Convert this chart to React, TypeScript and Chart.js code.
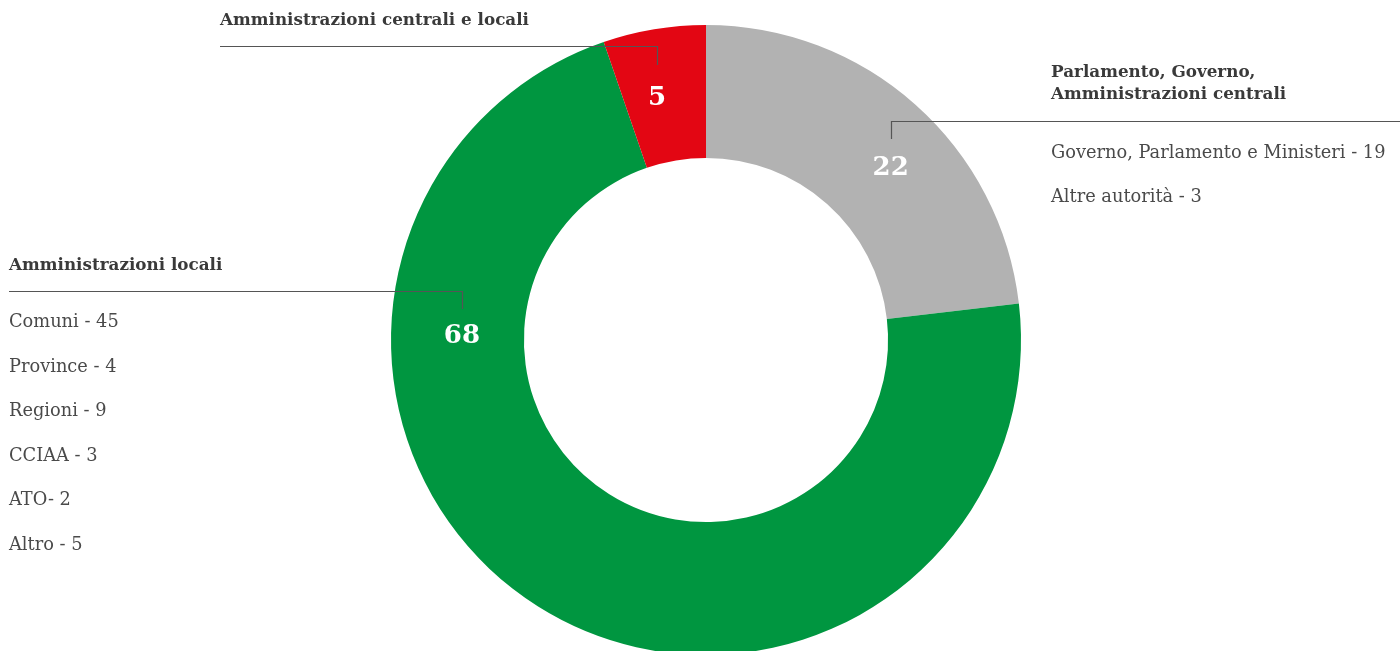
import React, { useEffect, useRef } from "react";
import { Chart, registerables } from "chart.js";

Chart.register(...registerables);

// ---- data ----
const categories = [
  "Parlamento, Governo, Amministrazioni centrali",
  "Amministrazioni locali",
  "Amministrazioni centrali e locali",
];
const values = [22, 68, 5];
const colors = ["#b2b2b2", "#009640", "#e30613"];

const centralTitle = ["Parlamento, Governo,", "Amministrazioni centrali"];
const centralItems = ["Governo, Parlamento e Ministeri - 19", "Altre autorità - 3"];
const localTitle = ["Amministrazioni locali"];
const localItems = ["Comuni - 45", "Province - 4", "Regioni - 9", "CCIAA - 3", "ATO- 2", "Altro - 5"];
const mixedTitle = ["Amministrazioni centrali e locali"];

// ---- layout (styles / positions only) ----
const FONT = '"DejaVu Serif", serif';
const labelAngleDeg = [46.9, 271.2, -11.4]; // clockwise from 12 o'clock
const labelRadiusFrac = [0.803, 0.775, 0.787]; // fraction of outer radius
const leaderTop = [46, 44, 51]; // px above value label
const leaderBottom = [28, 26, 32];

const annotations = [
  // gray
  { titleX: 1051, titleY: [73, 95], itemsY: [153, 197], lineTo: 1400, items: centralItems, title: centralTitle },
  // green
  { titleX: 9, titleY: [266], itemsY: [322, 367, 411, 456, 500, 545], lineTo: 9, items: localItems, title: localTitle },
  // red
  { titleX: 220, titleY: [21], itemsY: [], lineTo: 220, items: [] as string[], title: mixedTitle },
];

const labelPlugin = {
  id: "labels",
  afterDraw(chart: any) {
    const ctx = chart.ctx;
    const meta = chart.getDatasetMeta(0);
    ctx.save();
    meta.data.forEach((arc: any, i: number) => {
      const a = (labelAngleDeg[i] * Math.PI) / 180;
      const r = arc.outerRadius * labelRadiusFrac[i];
      const lx = arc.x + r * Math.sin(a);
      const ly = arc.y - r * Math.cos(a);
      // value label
      ctx.fillStyle = "#ffffff";
      ctx.font = `bold 26px ${FONT}`;
      ctx.textAlign = "center";
      ctx.textBaseline = "middle";
      ctx.fillText(String(values[i]), lx, ly + 1);
      // leader line
      const ann = annotations[i];
      const x0 = Math.round(lx) + 0.5;
      const yb = Math.round(ly - leaderBottom[i]);
      const yt = Math.round(ly - leaderTop[i]) + 0.5;
      ctx.strokeStyle = "#555555";
      ctx.lineWidth = 1.2;
      ctx.beginPath();
      ctx.moveTo(x0, yb);
      ctx.lineTo(x0, yt);
      ctx.lineTo(ann.lineTo, yt);
      ctx.stroke();
      // titles
      ctx.textAlign = "left";
      ctx.fillStyle = "#3a3a3a";
      ctx.font = `bold 16.8px ${FONT}`;
      ann.title.forEach((t: string, k: number) => ctx.fillText(t, ann.titleX, ann.titleY[k]));
      ctx.fillStyle = "#4a4a4a";
      ctx.font = `17.8px ${FONT}`;
      ann.items.forEach((t: string, k: number) => ctx.fillText(t, ann.titleX, ann.itemsY[k]));
    });
    ctx.restore();
  },
};

export default function App() {
  const ref = useRef<HTMLCanvasElement>(null);
  useEffect(() => {
    if (!ref.current) return;
    const chart = new Chart(ref.current, {
      type: "doughnut",
      data: {
        labels: categories,
        datasets: [
          {
            data: values,
            backgroundColor: colors,
            borderWidth: 0,
          },
        ],
      },
      options: {
        responsive: false,
        animation: false,
        cutout: "57.8%",
        layout: { padding: { left: 391, right: 379, top: 25, bottom: 45 } },
        plugins: { legend: { display: false }, tooltip: { enabled: false } },
      },
      plugins: [labelPlugin],
    });
    return () => chart.destroy();
  }, []);
  return (
    <div style={{ position: "absolute", left: 0, top: 0, width: 1400, height: 651, overflow: "hidden", background: "#fff" }}>
      <canvas ref={ref} width={1400} height={700} style={{ display: "block" }} />
    </div>
  );
}
